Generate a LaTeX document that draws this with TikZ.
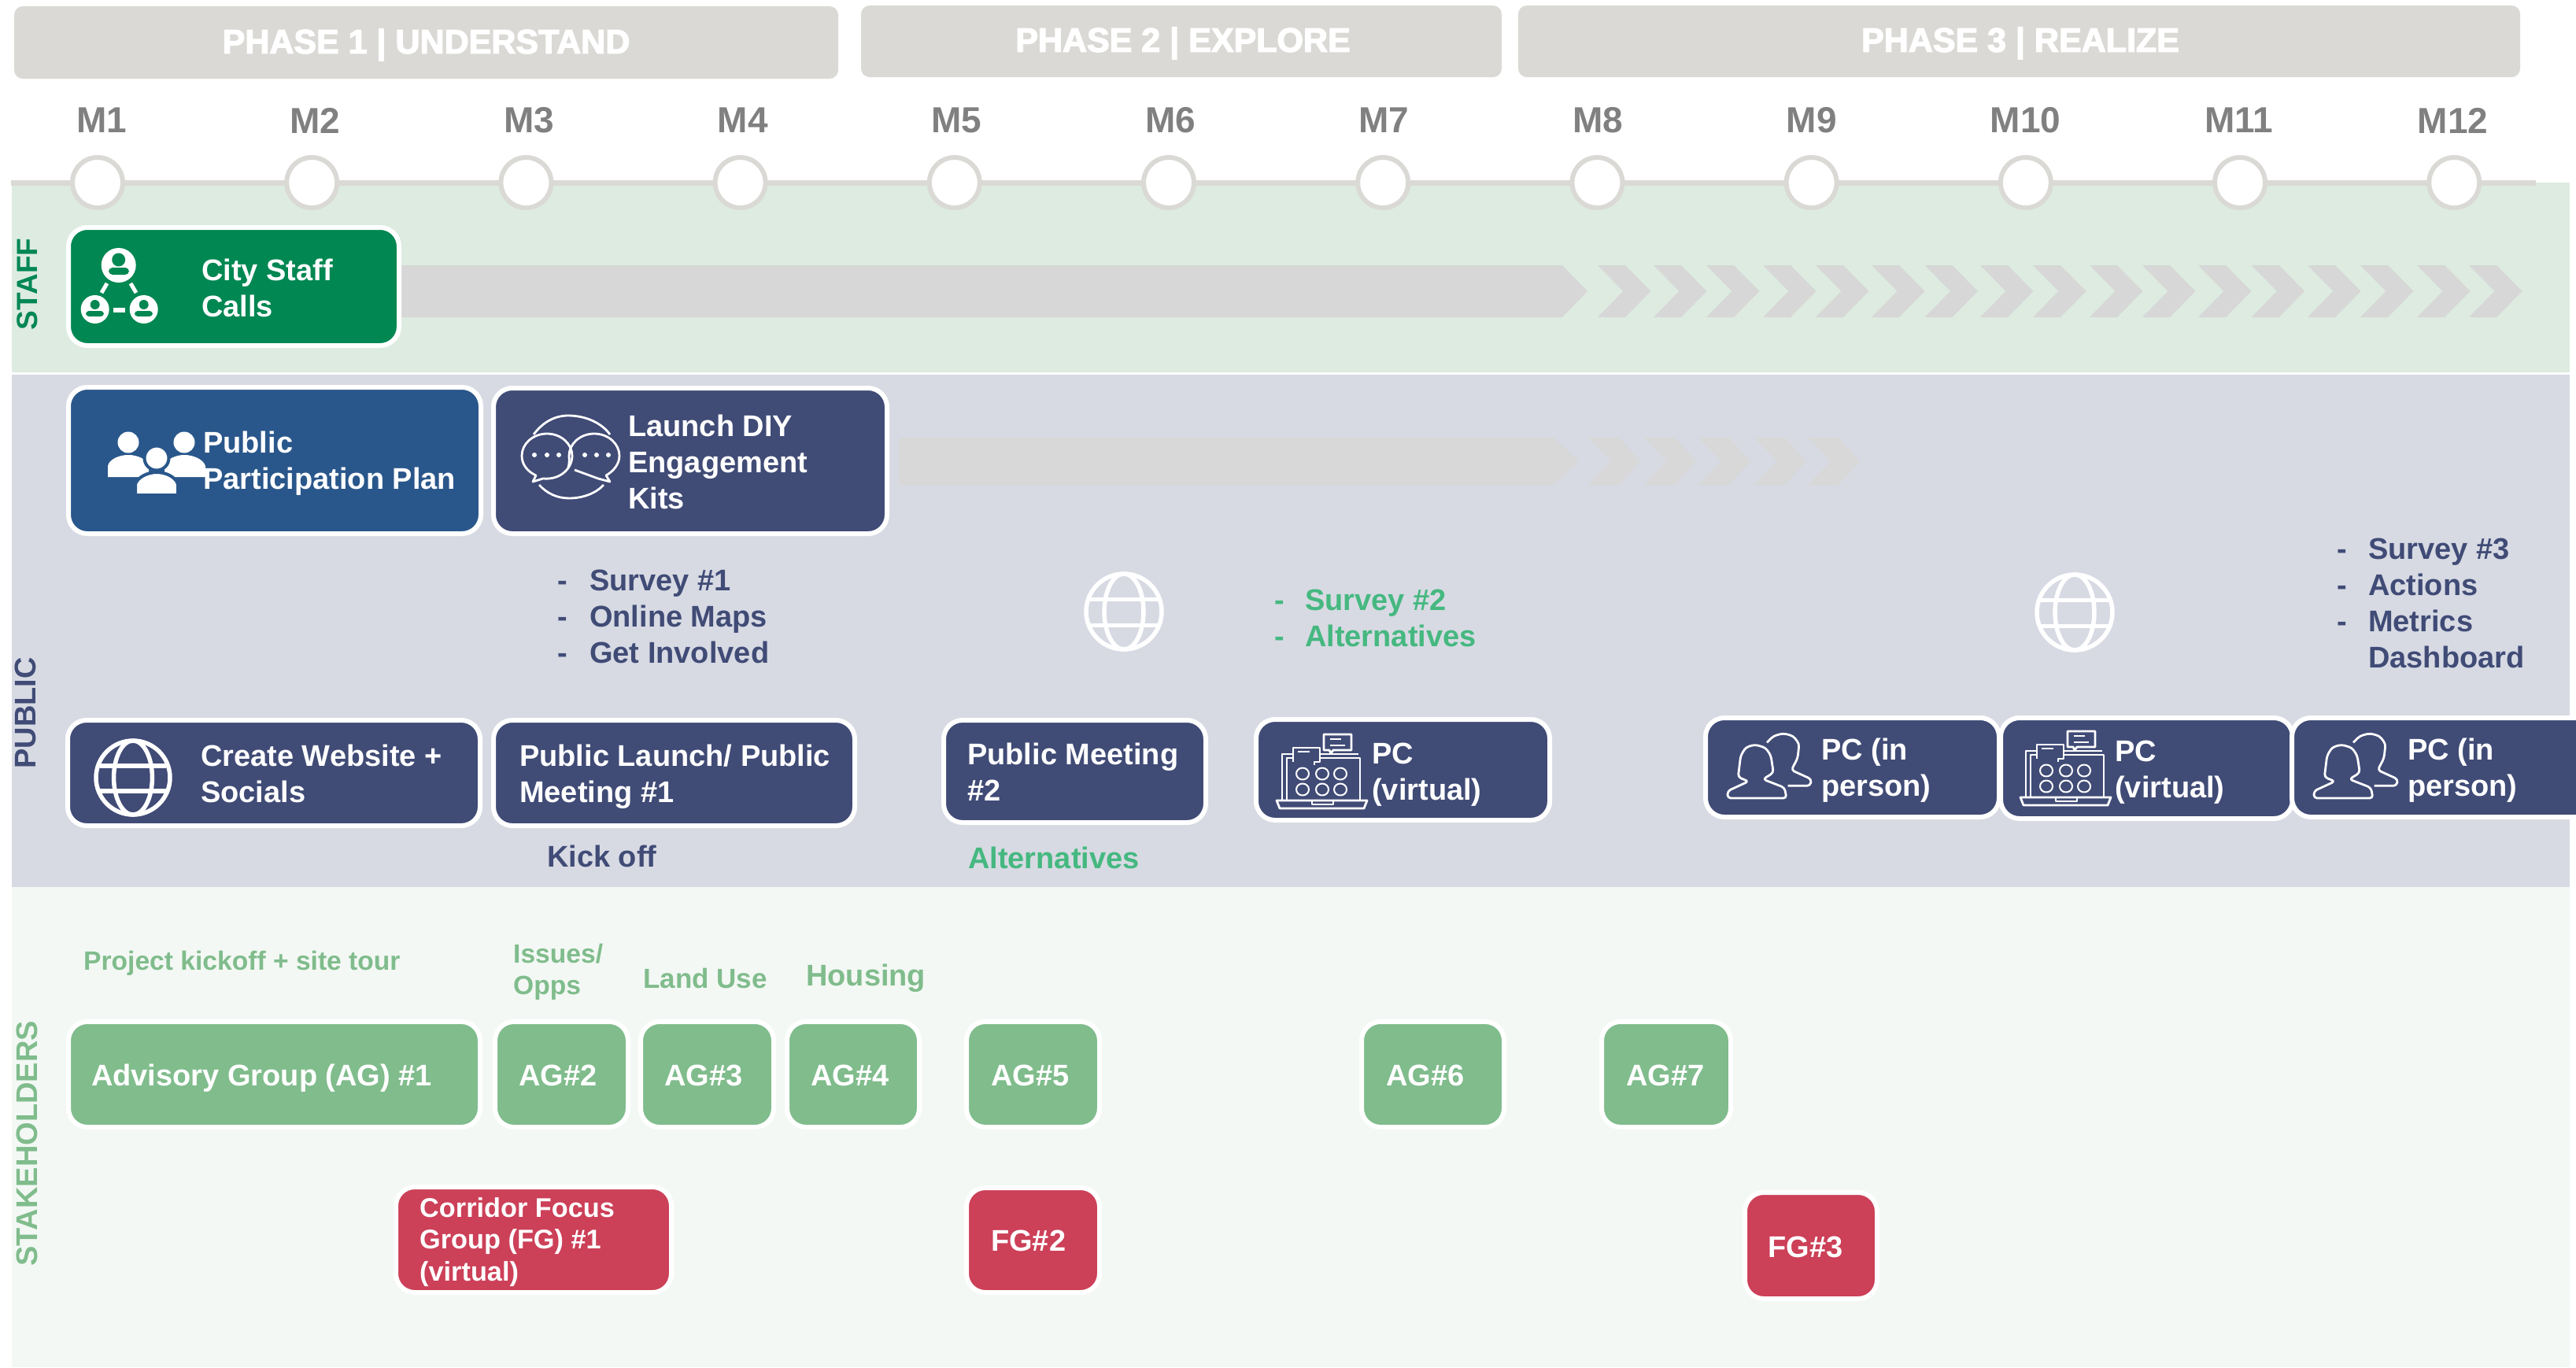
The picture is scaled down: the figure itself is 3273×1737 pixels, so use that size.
\documentclass[tikz,border=0pt]{standalone}
\usepackage{fontspec}
\setmainfont{Liberation Sans}
\newfontfamily\phasefont[UprightFont=*\space Bold,FakeBold=3]{Liberation Sans}
\definecolor{phasegray}{HTML}{DAD9D5}
\definecolor{monthgray}{HTML}{808080}
\definecolor{staffband}{HTML}{DDEBE0}
\definecolor{publicband}{HTML}{D7DAE3}
\definecolor{stakeband}{HTML}{F3F8F4}
\definecolor{staffgreen}{HTML}{008752}
\definecolor{planblue}{HTML}{2A578B}
\definecolor{navy}{HTML}{404B76}
\definecolor{aggreen}{HTML}{80BC8C}
\definecolor{fgred}{HTML}{CC4058}
\definecolor{brightgreen}{HTML}{45B880}
\definecolor{arrowgray}{HTML}{D7D7D7}
\definecolor{arrowgrayb}{HTML}{D8D8D8}
\tikzset{
  phasebar/.style={fill=phasegray,rounded corners=11pt,inner sep=0pt,outer sep=0pt},
  phasetext/.style={text=white,font=\phasefont\fontsize{43}{48}\selectfont,inner sep=0pt},
  monthtext/.style={text=monthgray,font=\bfseries\fontsize{46}{50}\selectfont,inner sep=0pt},
  monthdot/.style={circle,draw=phasegray,fill=white,line width=6pt,minimum size=64pt,inner sep=0pt},
  sidetext/.style={font=\bfseries\fontsize{38}{40}\selectfont,rotate=90,inner sep=0pt},
  boxbase/.style={draw=white,line width=6pt,rounded corners=24pt,inner sep=0pt,outer sep=0pt},
  lbl/.style={anchor=west,align=left,inner sep=0pt,text=white,font=\bfseries\fontsize{38}{46}\selectfont},
  notes/.style={anchor=west,align=left,inner sep=0pt,font=\bfseries\fontsize{38}{46}\selectfont},
  green lbl/.style={anchor=west,align=left,inner sep=0pt,text=aggreen,font=\bfseries\fontsize{33.6}{40}\selectfont},
  iconline/.style={draw=white,line width=2.8pt,line join=round},
  globeline/.style={draw=white,line width=5.5pt},
}
% name, colour, x1, y1, x2, y2
\newcommand{\bx}[6]{%
  \pgfmathsetmacro{\bxw}{#5-#3+6}\pgfmathsetmacro{\bxh}{#6-#4+6}%
  \pgfmathsetmacro{\bxx}{(#3+#5)/2}\pgfmathsetmacro{\bxy}{(#4+#6)/2}%
  \node[boxbase,fill=#2,minimum width=\bxw pt,minimum height=\bxh pt] (#1) at (\bxx,\bxy) {};}
\newcommand{\globeicon}[3]{% x y r
  \begin{scope}[shift={(#1,#2)}]
    \draw[globeline] (0,0) circle (#3);
    \draw[globeline] (0,0) ellipse ({#3*0.52} and #3);
    \draw[globeline] ({-#3*0.9},{-#3*0.32}) -- ({#3*0.9},{-#3*0.32});
    \draw[globeline] ({-#3*0.9},{#3*0.36}) -- ({#3*0.9},{#3*0.36});
  \end{scope}}
\newcommand{\laptopicon}[2]{% offset from the first laptop
  \begin{scope}[shift={(#1,#2)}]
    \draw[iconline] (1635,1017) -- (1635,963) -- (1643,963);
    \draw[iconline] (1677,963) -- (1728,963) -- (1728,1017);
    \draw[iconline] (1629,1017) -- (1629,958) -- (1643,958);
    \draw[iconline] (1677,958) -- (1726,958);
    \draw[iconline] (1622,1017) -- (1737,1017) -- (1733,1027) -- (1626,1027) -- cycle;
    \draw[iconline] (1667,1017) -- (1667,1022) -- (1694,1022) -- (1694,1017);
    \draw[iconline] (1643,968) -- (1643,950) -- (1677,950) -- (1677,968) -- (1670,968) -- (1670,972);
    \draw[iconline] (1649,955) -- (1664,955);
    \draw[iconline] (1682,953) -- (1682,933) -- (1717,933) -- (1717,953) -- (1694,953) -- (1691,957) -- (1689,953) -- cycle;
    \draw[iconline] (1690,939) -- (1704,939);
    \draw[iconline] (1690,947) -- (1709,947);
    \foreach \ix in {1655,1680,1703}
      \foreach \iy in {983,1003}
        \draw[iconline,line width=2pt] (\ix,\iy) ellipse (8 and 7.5);
  \end{scope}}
\newcommand{\peopleicon}[2]{% origin of the crop
  \begin{scope}[shift={(#1,#2)},x=0.3333pt,y=-0.3333pt]
    \draw[iconline,rounded corners=4pt] (75,312) -- (75,285) -- (155,248) -- (115,232) -- (125,150) -- (145,118) -- (180,108) -- (220,120) -- (240,150) -- (250,215) -- (210,240) -- (292,272) -- (300,312) -- cycle;
    \draw[iconline,rounded corners=4pt] (225,100) -- (250,75) -- (288,65) -- (325,75) -- (348,105) -- (342,160) -- (318,205) -- (395,240) -- (390,265) -- (305,265);
  \end{scope}}
\begin{document}
\begin{tikzpicture}[x=1pt,y=-1pt]
\useasboundingbox (0,0) rectangle (3273,1737);
\clip (0,0) rectangle (3273,1737);
\fill[white] (0,0) rectangle (3273,1737);
% bands
\fill[staffband] (15,232) rectangle (3265,473);
\fill[publicband] (15,476) rectangle (3265,1127);
\fill[stakeband] (15,1127) rectangle (3265,1737);
% phases
\node[phasebar,minimum width=1047pt,minimum height=92pt] (p1) at (541.5,54) {};
\node[phasebar,minimum width=814pt,minimum height=91pt] (p2) at (1501,52.5) {};
\node[phasebar,minimum width=1273pt,minimum height=91pt] (p3) at (2565.5,52.5) {};
\node[phasetext] (p1t) at (541.5,57) {PHASE 1 | UNDERSTAND};
\node[phasetext] (p2t) at (1503,55) {PHASE 2 | EXPLORE};
\node[phasetext] (p3t) at (2567,55) {PHASE 3 | REALIZE};
% timeline
\coordinate (tlstart) at (14,232);
\coordinate (tlend) at (3222,232);
\draw[phasegray,line width=7pt] (tlstart) -- (tlend);
\foreach \n in {1,...,12}{
  \pgfmathsetmacro{\cx}{124+272.2*(\n-1)}
  \pgfmathsetmacro{\lx}{129+271.6*(\n-1)}
  \node[monthdot] (dot\n) at (\cx,232) {};
  \node[monthtext] (month\n) at (\lx,153) {M\n};
}
% side labels
\node[sidetext,text=staffgreen,font=\bfseries\fontsize{37}{40}\selectfont] (sideA) at (35,361) {STAFF};
\node[sidetext,text=navy] (sideB) at (32,906) {PUBLIC};
\node[sidetext,text=aggreen] (sideC) at (34,1453) {STAKEHOLDERS};
% grey arrows
\fill[arrowgray] (505,337) -- (1985,337) -- (2017,370) -- (1985,403) -- (505,403) -- cycle;
\foreach \c in {2030,2101,2168,2240,2307,2378,2445.5,2516,2583,2655,2722,2793,2860.5,2932,2999,3071,3137}
  \fill[arrowgray] (\c,337) -- ({\c+35},337) -- ({\c+67.5},370) -- ({\c+35},403) -- (\c,403) -- ({\c+32.5},370) -- cycle;
\fill[arrowgrayb] (1142,556) -- (1974,556) -- (2006,586) -- (1974,616) -- (1142,616) -- cycle;
\foreach \c in {2018,2089,2158,2229,2297}
  \fill[arrowgrayb] (\c,556) -- ({\c+39},556) -- ({\c+66},586) -- ({\c+39},616) -- (\c,616) -- ({\c+29},586) -- cycle;
% staff + public boxes
\bx{staff}{staffgreen}{90}{292}{504}{436}
\node[lbl] (stafft) at (256,366) {City Staff\\Calls};
\bx{plan}{planblue}{90}{495}{608}{675}
\bx{diy}{navy}{630}{496}{1124}{675}
\node[lbl] (diyt) at (798,587) {Launch DIY\\Engagement\\Kits};
\bx{web}{navy}{89}{918}{607}{1046}
\node[lbl] (webt) at (255,983) {Create Website +\\Socials};
\bx{launch}{navy}{630}{918}{1083}{1046}
\node[lbl] (launcht) at (660,987) {Public Launch/ Public\\Meeting \#1};
\bx{meet}{navy}{1202}{918}{1529}{1042}
\node[lbl] (meett) at (1229,981) {Public Meeting\\\#2};
\bx{pca}{navy}{1599}{917}{1966}{1039}
\node[lbl] (pcat) at (1743,984) {PC\\(virtual)};
\bx{pcb}{navy}{2170}{915}{2537}{1035}
\node[lbl] (pcbt) at (2314,979) {PC (in\\person)};
\bx{pcc}{navy}{2545}{915}{2910}{1037}
\node[lbl] (pcct) at (2687,981) {PC\\(virtual)};
\bx{pcd}{navy}{2915}{915}{3295}{1035}
\node[lbl] (pcdt) at (3059,979) {PC (in\\person)};
% plan icon
\fill[white] (137,606) -- (137,592) .. controls (139,583) and (152,578) .. (163,578) .. controls (174,578) and (187,583) .. (189,592) -- (189,606) -- cycle;
\fill[white] (209,606) -- (209,592) .. controls (211,583) and (224,578) .. (234,578) .. controls (245,578) and (258,583) .. (261,592) -- (261,606) -- cycle;
\fill[white] (163,562) circle (13.5);
\fill[white] (234,562) circle (13.5);
\draw[planblue,line width=4pt,fill=white] (199,582) circle (15.5);
\draw[planblue,line width=4pt,fill=white] (172,629) -- (172,615) .. controls (175,606) and (188,600) .. (199,600) .. controls (211,600) and (223,606) .. (226,615) -- (226,629) -- cycle;
\fill[planblue] (165,627) rectangle (235,640);
\node[lbl] (plant) at (258,589) {Public\\Participation Plan};
% staff icon
\fill[white] (150.7,337) circle (22);
\fill[white] (120.7,393) circle (18);
\fill[white] (182.7,393) circle (18);
\draw[white,line width=5pt] (136,360) -- (129,372);
\draw[white,line width=5pt] (166,360) -- (173,372);
\draw[white,line width=6pt] (144,394) -- (159,394);
\fill[staffgreen] (150.7,330) circle (8.5);
\fill[staffgreen,rounded corners=5pt] (138,349) -- (138,340) -- (164,340) -- (164,349) -- cycle;
\fill[staffgreen] (120.7,387) circle (6);
\fill[staffgreen,rounded corners=4pt] (109,402) -- (109,395) -- (132,395) -- (132,402) -- cycle;
\fill[staffgreen] (182.7,387) circle (6);
\fill[staffgreen,rounded corners=4pt] (171,402) -- (171,395) -- (194,395) -- (194,402) -- cycle;
% discussion icon
\draw[iconline] (695,551) .. controls (677,551) and (663,564) .. (663,579) .. controls (663,590) and (670,599) .. (681,604) -- (677,612) -- (690,608) .. controls (712,610) and (727,595) .. (727,579) .. controls (727,564) and (713,551) .. (695,551) -- cycle;
\draw[iconline] (755,551) .. controls (737,551) and (723,564) .. (723,579) .. controls (723,583) and (724,586) .. (722,594);
\draw[iconline] (755,551) .. controls (773,551) and (787,564) .. (787,579) .. controls (787,590) and (779,599) .. (770,604) -- (775,612) -- (760,608) -- (730,597);
\draw[iconline] (678,552) .. controls (690,536) and (705,528) .. (722,528) .. controls (745,528) and (765,538) .. (775,552);
\draw[iconline] (685,616) .. controls (695,627) and (708,633) .. (723,633) .. controls (740,633) and (757,627) .. (767,616);
\foreach \dx in {679,695,710,743,758,773}
  \fill[white] (\dx,578) circle (3);
% globes
\globeicon{169}{988}{47}
\globeicon{1428}{777}{48}
\globeicon{2636}{778}{48}
% laptops and people
\laptopicon{0}{0}
\laptopicon{945}{-4}
\peopleicon{2170}{910}
\peopleicon{2915}{910}
% public notes
\node[notes,text=navy] (notesa) at (708,783) {\makebox[41pt][l]{-}Survey \#1\\\makebox[41pt][l]{-}Online Maps\\\makebox[41pt][l]{-}Get Involved};
\node[notes,text=brightgreen] (notesb) at (1619,785) {\makebox[39pt][l]{-}Survey \#2\\\makebox[39pt][l]{-}Alternatives};
\node[notes,text=navy] (notesc) at (2969,766) {\makebox[40pt][l]{-}Survey \#3\\\makebox[40pt][l]{-}Actions\\\makebox[40pt][l]{-}Metrics\\\makebox[40pt][l]{}Dashboard};
\node[notes,text=navy] (kick) at (695,1088) {Kick off};
\node[notes,text=brightgreen] (alts) at (1230,1090) {Alternatives};
% stakeholder notes
\node[green lbl] (nA) at (106,1224) {Project kickoff + site tour};
\node[green lbl] (nB) at (652,1235) {Issues/\\Opps};
\node[green lbl,font=\bfseries\fontsize{35}{40}\selectfont] (nC) at (817,1243) {Land Use};
\node[green lbl,font=\bfseries\fontsize{38}{40}\selectfont] (nD) at (1024,1243) {Housing};
% stakeholder boxes
\bx{ag1}{aggreen}{90}{1301}{607}{1429}
\node[lbl] (ag1t) at (116,1370) {Advisory Group (AG) \#1};
\bx{ag2}{aggreen}{632}{1301}{795}{1429}
\node[lbl] (ag2t) at (659,1366) {AG\#2};
\bx{ag3}{aggreen}{817}{1301}{980}{1429}
\node[lbl] (ag3t) at (844,1366) {AG\#3};
\bx{ag4}{aggreen}{1003}{1301}{1165}{1429}
\node[lbl] (ag4t) at (1030,1366) {AG\#4};
\bx{ag5}{aggreen}{1231}{1301}{1394}{1429}
\node[lbl] (ag5t) at (1259,1366) {AG\#5};
\bx{ag6}{aggreen}{1733}{1301}{1908}{1429}
\node[lbl] (ag6t) at (1761,1366) {AG\#6};
\bx{ag7}{aggreen}{2038}{1301}{2196}{1429}
\node[lbl] (ag7t) at (2066,1366) {AG\#7};
\bx{fg1}{fgred}{506}{1511}{850}{1639}
\node[lbl,font=\bfseries\fontsize{34.3}{40.5}\selectfont] (fg1t) at (533,1578) {Corridor Focus\\Group (FG) \#1\\(virtual)};
\bx{fg2}{fgred}{1231}{1512}{1394}{1639}
\node[lbl] (fg2t) at (1259,1576) {FG\#2};
\bx{fg3}{fgred}{2220}{1518}{2382}{1647}
\node[lbl] (fg3t) at (2246,1584) {FG\#3};
\end{tikzpicture}
\end{document}
